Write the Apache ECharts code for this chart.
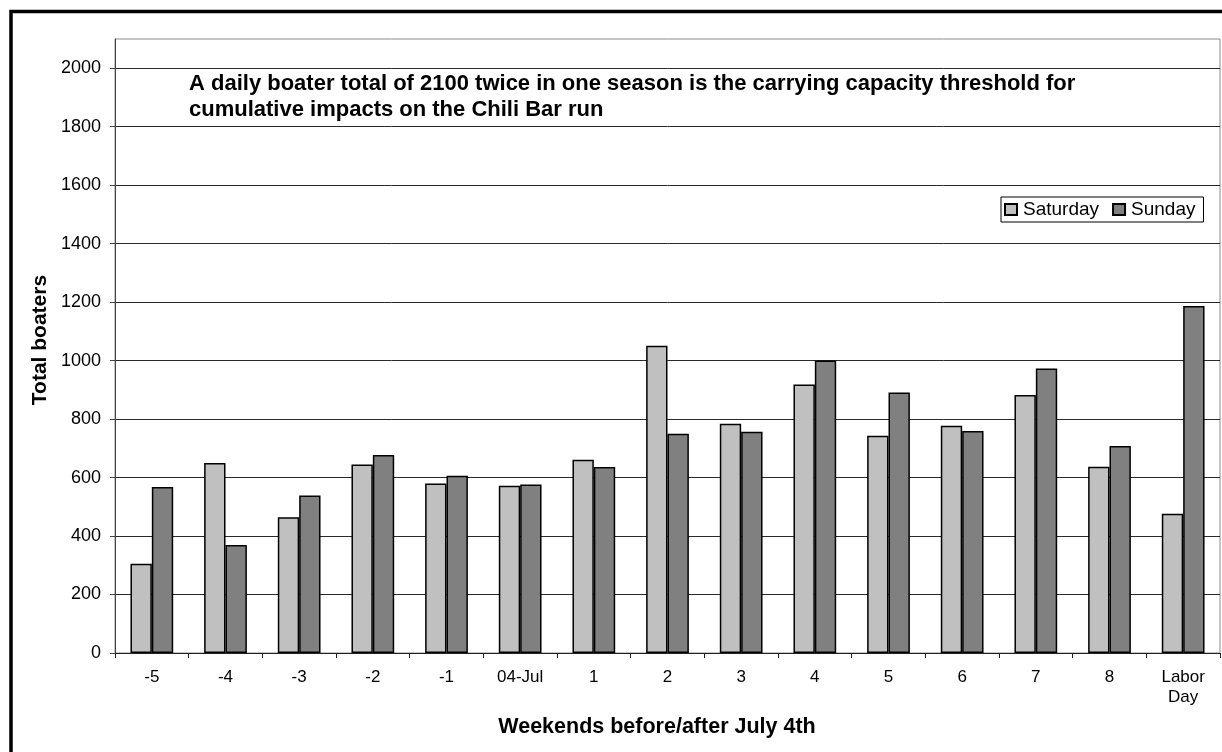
<!DOCTYPE html>
<html>
<head>
<meta charset="utf-8">
<script src="https://cdn.jsdelivr.net/npm/echarts@6/dist/echarts.min.js"></script>
<style>
  html, body { margin: 0; padding: 0; background: #fff; }
  #chart { width: 1222px; height: 752px; }
</style>
</head>
<body>
<div id="chart"></div>
<script>
// Weekend boater counts on the Chili Bar run
const weekends = ['-5', '-4', '-3', '-2', '-1', '04-Jul', '1', '2', '3', '4', '5', '6', '7', '8', 'Labor\nDay'];
const saturday = [305, 650, 464, 645, 580, 572, 661, 1051, 784, 918, 743, 777, 882, 637, 476];
const sunday   = [568, 369, 539, 677, 606, 576, 636, 750, 757, 1000, 891, 759, 973, 708, 1187];
const yTicks = { min: 0, max: 2100, step: 200 };

const FONT = "'Liberation Sans', Arial, Helvetica, sans-serif";

const chart = echarts.init(document.getElementById('chart'), null, { renderer: 'canvas' });

chart.setOption({
  animation: false,
  backgroundColor: '#ffffff',
  textStyle: { fontFamily: FONT, color: '#000' },
  grid: {
    left: 115, right: 2, top: 39, bottom: 99,
    show: true, borderColor: '#8a8a8a', borderWidth: 1, backgroundColor: '#fff'
  },
  legend: {
    data: ['Saturday', 'Sunday'],
    left: 1001, top: 197,
    orient: 'horizontal',
    padding: [3, 8, 3, 3],
    itemGap: 13, itemWidth: 12, itemHeight: 11,
    icon: 'rect',
    backgroundColor: '#fff',
    borderColor: '#000', borderWidth: 1,
    textStyle: { fontFamily: FONT, fontSize: 19, color: '#000', padding: [0, 0, 0, 1] }
  },
  xAxis: {
    type: 'category',
    data: weekends,
    boundaryGap: true,
    axisLine: { lineStyle: { color: '#222', width: 1 } },
    axisTick: { show: true, length: 5, inside: false, alignWithLabel: false, lineStyle: { color: '#222' } },
    axisLabel: { fontFamily: FONT, fontSize: 17, color: '#000', margin: 14, lineHeight: 20, interval: 0 },
    splitLine: { show: false }
  },
  yAxis: {
    type: 'value',
    min: yTicks.min, max: yTicks.max, interval: yTicks.step,
    axisLine: { show: true, lineStyle: { color: '#444', width: 1 } },
    axisTick: { show: true, length: 5, lineStyle: { color: '#444' } },
    axisLabel: {
      fontFamily: FONT, fontSize: 18, color: '#000', margin: 14, showMaxLabel: false,
      formatter: (v) => String(v)
    },
    splitLine: { show: true, showMaxLine: false, lineStyle: { color: '#2a2a2a', width: 1 } }
  },
  series: [
    {
      name: 'Saturday', type: 'bar', data: saturday,
      barGap: '0%', barCategoryGap: '42%',
      itemStyle: { color: '#c0c0c0', borderColor: '#000', borderWidth: 1.5 }
    },
    {
      name: 'Sunday', type: 'bar', data: sunday,
      barGap: '0%', barCategoryGap: '42%',
      itemStyle: { color: '#808080', borderColor: '#000', borderWidth: 1.5 }
    }
  ],
  graphic: [
    {
      type: 'rect', silent: true, z: 100,
      shape: { x: 11, y: 11.5, width: 1240, height: 780 },
      style: { fill: 'none', stroke: '#000', lineWidth: 3.5 }
    },
    {
      type: 'text', z: 50, left: 189, top: 71,
      style: {
        text: 'A daily boater total of 2100 twice in one season is the carrying capacity threshold for\ncumulative impacts on the Chili Bar run',
        font: 'bold 22px ' + FONT, fill: '#000', lineHeight: 26
      }
    },
    {
      type: 'text', z: 50, x: 657, y: 727,
      style: {
        text: 'Weekends before/after July 4th',
        font: 'bold 21.5px ' + FONT, fill: '#000', align: 'center', verticalAlign: 'middle'
      }
    },
    {
      type: 'text', z: 50, x: 40, y: 340, rotation: Math.PI / 2,
      style: {
        text: 'Total boaters',
        font: 'bold 21px ' + FONT, fill: '#000', align: 'center', verticalAlign: 'middle'
      }
    }
  ]
});
</script>
</body>
</html>
